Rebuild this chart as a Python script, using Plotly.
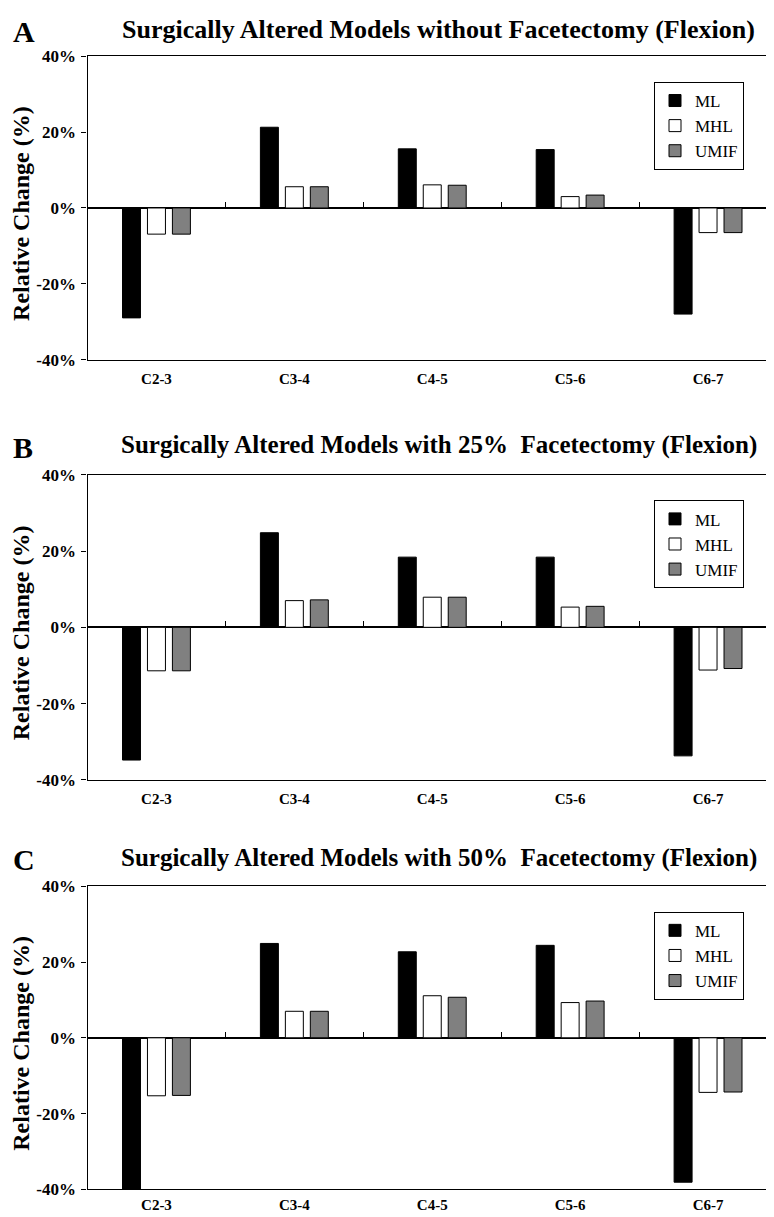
import plotly.graph_objects as go

categories = ["C2-3", "C3-4", "C4-5", "C5-6", "C6-7"]
series_names = ["ML", "MHL", "UMIF"]

# Panel A: without facetectomy
a_ml = [-29.0, 21.3, 15.6, 15.4, -28.0]
a_mhl = [-6.9, 5.6, 6.1, 3.0, -6.5]
a_umif = [-6.9, 5.6, 6.0, 3.4, -6.5]
# Panel B: 25% facetectomy
b_ml = [-34.8, 24.8, 18.4, 18.4, -33.7]
b_mhl = [-11.4, 7.0, 7.9, 5.3, -11.2]
b_umif = [-11.4, 7.2, 7.9, 5.5, -10.8]
# Panel C: 50% facetectomy
c_ml = [-40.5, 24.9, 22.7, 24.4, -38.1]
c_mhl = [-15.3, 7.0, 11.1, 9.3, -14.4]
c_umif = [-15.2, 7.0, 10.7, 9.7, -14.3]

panel_letters = ["A", "B", "C"]
panel_titles = [
    "Surgically Altered Models without Facetectomy (Flexion)",
    "Surgically Altered Models with 25%  Facetectomy (Flexion)",
    "Surgically Altered Models with 50%  Facetectomy (Flexion)",
]
y_tickvals = [-40, -20, 0, 20, 40]
y_ticktext = ["-40%", "-20%", "0%", "20%", "40%"]
y_title = "Relative Change (%)"

panels = [(a_ml, a_mhl, a_umif), (b_ml, b_mhl, b_umif), (c_ml, c_mhl, c_umif)]

W, H = 774, 1217
SERIF = "'Liberation Serif', 'DejaVu Serif', 'Times New Roman', serif"
colors = ["#000000", "#ffffff", "#808080"]

# pixel layout (top, bottom) of each plot area
px_rows = [(40, 348), (465, 775), (883, 1191)]
x_left, x_right = 79.5, 769
title_y = [13, 435, 854]
title_sizes = [26, 25, 25]

def py(v):
    return 1 - v / H

fig = go.Figure()
layout = dict(
    width=W, height=H,
    margin=dict(l=0, r=0, t=0, b=0),
    paper_bgcolor="white", plot_bgcolor="white",
    barmode="group", bargap=0.457, bargroupgap=0.28,
    showlegend=True,
    font=dict(family=SERIF, color="black"),
    annotations=[],
)

xs = list(range(len(categories)))
for i, (vals, (top, bot)) in enumerate(zip(panels, px_rows)):
    n = i + 1
    xa = "x" if n == 1 else f"x{n}"
    ya = "y" if n == 1 else f"y{n}"
    leg = "legend" if n == 1 else f"legend{n}"
    for s, (name, v, col) in enumerate(zip(series_names, vals, colors)):
        fig.add_trace(go.Bar(
            x=xs, y=v, name=name, xaxis=xa, yaxis=ya, legend=leg,
            marker=dict(color=col, line=dict(color="black", width=1)),
            showlegend=True,
        ))
    dom_y = [py(bot), py(top)]
    layout[f"xaxis{'' if n == 1 else n}"] = dict(
        domain=[x_left / W, x_right / W], anchor=ya, range=[-0.5, 4.5],
        tickvals=xs, ticktext=categories, ticks="", showgrid=False,
        zeroline=False, showline=True, mirror=True, linecolor="black", linewidth=1.3,
        tickfont=dict(family=SERIF, size=15, color="black", weight="bold"),
        ticklabelstandoff=5 if n < 3 else 1,
        fixedrange=True,
    )
    layout[f"yaxis{'' if n == 1 else n}"] = dict(
        domain=dom_y, anchor=xa, range=[-40, 40],
        tickvals=y_tickvals, ticktext=y_ticktext, ticks="outside", ticklen=5,
        tickcolor="black", showgrid=False, zeroline=True, zerolinecolor="black",
        zerolinewidth=1.5, showline=True, mirror=True, linecolor="black", linewidth=1.3,
        tickfont=dict(family=SERIF, size=17, color="black", weight="bold"),
        ticklabelstandoff=2,
    )
    # category boundary ticks on the zero line
    k = 3 + n
    layout[f"xaxis{k}"] = dict(
        overlaying=xa, anchor="free", position=(dom_y[0] + dom_y[1]) / 2,
        side="top", range=[-0.5, 4.5], tickvals=[0.5, 1.5, 2.5, 3.5],
        ticks="outside", ticklen=6, tickcolor="black", tickwidth=1,
        showticklabels=False, showgrid=False, zeroline=False, showline=False,
    )
    fig.add_trace(go.Scatter(x=[None], y=[None], xaxis=f"x{k}", yaxis=ya,
                             showlegend=False, hoverinfo="skip"))
    layout[leg] = dict(
        x=646 / W, y=py(top + 26), xanchor="left", yanchor="top",
        bordercolor="black", borderwidth=1, bgcolor="white",
        font=dict(family=SERIF, size=17, color="black"),
        tracegroupgap=0, itemwidth=30,
    )
    # titles and letters
    layout["annotations"].append(dict(
        text=panel_titles[i], xref="paper", yref="paper",
        x=431 / W, y=py(title_y[i]), xanchor="center", yanchor="middle",
        showarrow=False, font=dict(family=SERIF, size=title_sizes[i], color="black", weight="bold"),
    ))
    layout["annotations"].append(dict(
        text=panel_letters[i], xref="paper", yref="paper",
        x=3 / W, y=py(title_y[i] + 2), xanchor="left", yanchor="middle",
        showarrow=False, font=dict(family=SERIF, size=30, color="black", weight="bold"),
    ))
    layout["annotations"].append(dict(
        text=y_title, xref="paper", yref="paper", textangle=-90,
        x=13 / W, y=py((top + bot) / 2 + 6), xanchor="center", yanchor="middle",
        showarrow=False, font=dict(family=SERIF, size=24, color="black", weight="bold"),
    ))

fig.update_layout(**layout)
fig.write_html("out.html")
